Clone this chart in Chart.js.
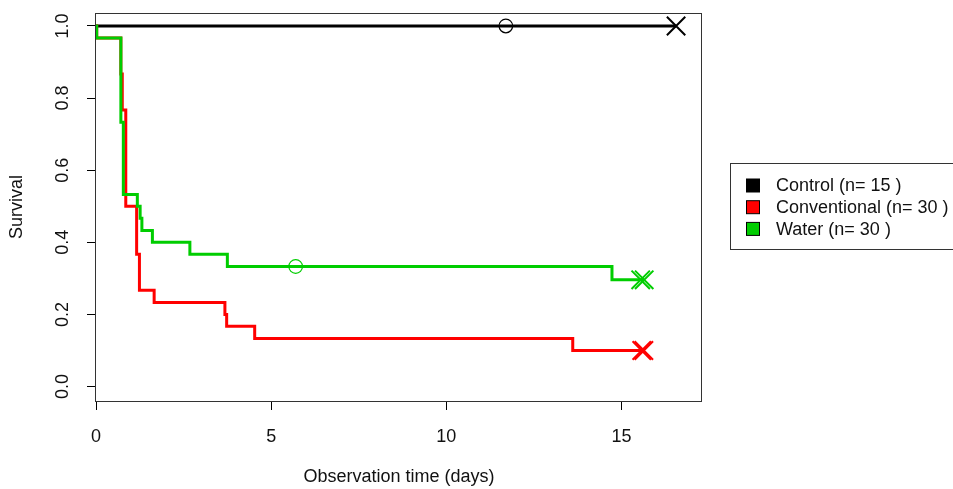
<!DOCTYPE html>
<html>
<head>
<meta charset="utf-8">
<script src="https://cdn.jsdelivr.net/npm/chart.js@4.4.0/dist/chart.umd.min.js"></script>
<style>
  html, body { margin: 0; padding: 0; background: #fff; }
  #wrap { width: 953px; height: 489px; }
</style>
</head>
<body>
<div id="wrap"><canvas id="km" width="953" height="489"></canvas></div>
<script>
const groupNames = ["Control", "Conventional", "Water"];
const groupSizes = [15, 30, 30];
const groupColors = ["#000000", "#ff0000", "#00cd00"];

const xTicks = [0, 5, 10, 15];
const yTicks = [0, 0.2, 0.4, 0.6, 0.8, 1.0];
const yTickLabels = ["0.0", "0.2", "0.4", "0.6", "0.8", "1.0"];

// Kaplan-Meier steps: time of each step and survival right after it
const controlTime = [0, 16.56];
const controlSurv = [1, 1];
const conventionalTime = [0, 0.02, 0.71, 0.75, 0.85, 1.16, 1.24, 1.66, 3.68, 3.73, 4.53, 13.61, 15.62];
const conventionalSurv = [1, 0.967, 0.867, 0.767, 0.5, 0.367, 0.267, 0.233, 0.2, 0.167, 0.133, 0.1, 0.1];
const waterTime = [0, 0.02, 0.71, 0.78, 1.18, 1.26, 1.31, 1.61, 2.68, 3.75, 14.73, 15.65];
const waterSurv = [1, 0.967, 0.733, 0.533, 0.5, 0.467, 0.433, 0.4, 0.367, 0.333, 0.296, 0.296];

// censoring marks
const controlCircleTime = [11.7];
const controlCircleSurv = [1];
const controlCrossTime = [16.56];
const controlCrossSurv = [1];
const conventionalCrossTime = [15.58, 15.64];
const conventionalCrossSurv = [0.1, 0.1];
const waterCircleTime = [5.7];
const waterCircleSurv = [0.333];
const waterCrossTime = [15.55, 15.65];
const waterCrossSurv = [0.296, 0.296];

const pts = (xs, ys) => xs.map((t, i) => ({ x: t, y: ys[i] }));

const curve = (data, color, order) => ({
  data, order,
  borderColor: color,
  borderWidth: 3,
  stepped: true,
  pointRadius: 0,
  fill: false,
});
const marks = (data, color, style, order) => ({
  data, order,
  showLine: false,
  borderColor: color,
  pointStyle: style,
  pointRadius: style === "circle" ? 6.8 : 13,
  pointBorderWidth: style === "circle" ? 1.2 : 2,
  pointBorderColor: color,
  pointBackgroundColor: "rgba(0,0,0,0)",
  clip: false,
});

const FONT = "18px 'Liberation Sans', Arial, sans-serif";
const TEXT = "#111";

const rPlot = {
  id: "rPlot",
  beforeDatasetsDraw(chart) {
    const { ctx, chartArea: a } = chart;
    ctx.save();
    ctx.strokeStyle = "#333";
    ctx.lineWidth = 1;
    ctx.strokeRect(a.left - 0.5, a.top + 0.5, a.right - a.left, a.bottom - a.top);
    ctx.restore();
  },
  afterDraw(chart) {
    const { ctx, chartArea: a, scales: { x, y } } = chart;
    ctx.save();
    ctx.font = FONT;
    ctx.fillStyle = TEXT;
    ctx.textAlign = "center";
    ctx.textBaseline = "middle";
    xTicks.forEach((v) => ctx.fillText(String(v), x.getPixelForValue(v), 437));
    yTicks.forEach((v, i) => {
      ctx.save();
      ctx.translate(63, y.getPixelForValue(v));
      ctx.rotate(-Math.PI / 2);
      ctx.fillText(yTickLabels[i], 0, 0);
      ctx.restore();
    });
    ctx.fillText("Observation time (days)", (a.left + a.right) / 2, 477);
    ctx.save();
    ctx.translate(17, (a.top + a.bottom) / 2);
    ctx.rotate(-Math.PI / 2);
    ctx.fillText("Survival", 0, 0);
    ctx.restore();

    // legend
    ctx.strokeStyle = "#333";
    ctx.lineWidth = 1;
    ctx.strokeRect(730.5, 163.5, 260, 86);
    ctx.textAlign = "left";
    groupNames.forEach((name, i) => {
      const cy = 185.5 + i * 21.7;
      ctx.fillStyle = groupColors[i];
      ctx.fillRect(746.5, cy - 6.5, 13, 13);
      ctx.strokeStyle = "#000";
      ctx.strokeRect(746.5, cy - 6.5, 13, 13);
      ctx.fillStyle = TEXT;
      ctx.fillText(`${name} (n= ${groupSizes[i]} )`, 776, cy + 1);
    });
    ctx.restore();
  },
};

new Chart(document.getElementById("km"), {
  type: "line",
  data: {
    datasets: [
      curve(pts(controlTime, controlSurv), groupColors[0], 6),
      marks(pts(controlCircleTime, controlCircleSurv), groupColors[0], "circle", 5),
      marks(pts(controlCrossTime, controlCrossSurv), groupColors[0], "crossRot", 5),
      curve(pts(conventionalTime, conventionalSurv), groupColors[1], 4),
      marks(pts(conventionalCrossTime, conventionalCrossSurv), groupColors[1], "crossRot", 3),
      curve(pts(waterTime, waterSurv), groupColors[2], 2),
      marks(pts(waterCircleTime, waterCircleSurv), groupColors[2], "circle", 1),
      marks(pts(waterCrossTime, waterCrossSurv), groupColors[2], "crossRot", 1),
    ],
  },
  options: {
    responsive: false,
    animation: false,
    events: [],
    layout: { autoPadding: false, padding: { left: 0, top: 13, right: 251, bottom: 0 } },
    plugins: { legend: { display: false }, tooltip: { enabled: false } },
    scales: {
      x: {
        type: "linear",
        min: 0,
        max: 17.3,
        afterBuildTicks: (s) => { s.ticks = xTicks.map((v) => ({ value: v })); },
        afterFit: (s) => { s.height = 88; },
        grid: { drawOnChartArea: false, drawTicks: true, tickLength: 9, color: "#000", lineWidth: 1 },
        border: { display: false },
        ticks: { display: false },
      },
      y: {
        type: "linear",
        min: -0.04,
        max: 1.036,
        afterBuildTicks: (s) => { s.ticks = yTicks.map((v) => ({ value: v })); },
        afterFit: (s) => { s.width = 96; },
        grid: { drawOnChartArea: false, drawTicks: true, tickLength: 9, color: "#000", lineWidth: 1 },
        border: { display: false },
        ticks: { display: false },
      },
    },
  },
  plugins: [rPlot],
});
</script>
</body>
</html>
